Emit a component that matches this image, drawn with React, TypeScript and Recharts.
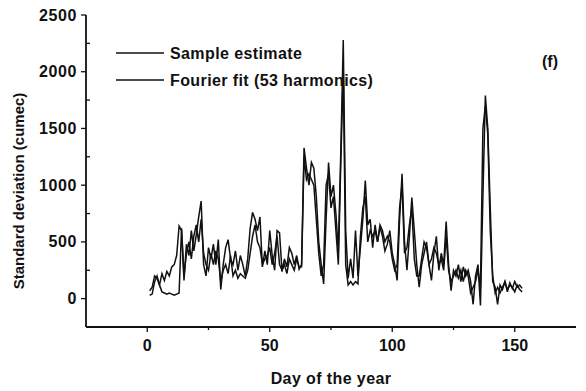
import React from "react";
import { LineChart, Line, XAxis, YAxis, Legend } from "recharts";

// Daily standard deviation values (cumec)
const sampleEstimate = [
    70, 100, 200, 180, 120, 220, 160, 240, 200, 280,
    300, 380, 640, 600, 160, 480, 380, 600, 420, 560,
    720, 860, 300, 200, 450, 350, 480, 300, 520, 80,
    300, 450, 520, 350, 300, 420, 250, 380, 300, 200,
    350, 620, 760, 700, 600, 720, 280, 420, 300, 600,
    380, 250, 600, 580, 240, 350, 280, 450, 400, 300,
    380, 260, 300, 1330, 1150, 1000, 1200, 1150, 900, 500,
    300, 130, 700, 1200, 900, 1000, 750, 420, 1300, 2280,
    600, 180, 350, 180, 600, 200, 450, 700, 1040, 650,
    700, 450, 650, 500, 630, 550, 420, 480, 600, 400,
    300, 160, 700, 1100, 500, 250, 550, 890, 600, 300,
    100, 300, 400, 500, 300, 160, 400, 550, 250, 400,
    300, 680, 300, 70, 250, 200, 300, 150, 280, 200,
    250, 150, -50, 200, 300, -60, 900, 1790, 1500, 800,
    150, 100, -50, 120, 80, 150, 60, 140, 90, 150,
    100, 120, 90,
];

const fourierFit = [
    30, 40, 150, 200, 120, 60, 50, 40, 50, 40,
    30, 40, 50, 620, 200, 400, 500, 350, 550, 650,
    500, 700, 400, 300, 250, 400, 300, 420, 350, 150,
    250, 300, 220, 380, 200, 250, 180, 220, 200, 180,
    250, 400, 550, 650, 500, 450, 300, 350, 380, 450,
    300, 400, 550, 300, 250, 300, 220, 350, 300, 250,
    350, 280, 280, 1250, 1050, 1100, 1050, 1000, 700, 400,
    200, 300, 1000, 1100, 800, 900, 600, 300, 1200, 2000,
    300, 120, 150, 120, 150, 130, 550, 800, 900, 500,
    600, 550, 600, 500, 650, 600, 500, 550, 500, 350,
    250, 300, 800, 1000, 400, 450, 650, 800, 350, 200,
    200, 350, 500, 450, 300, 350, 450, 400, 300, 350,
    250, 550, 250, 150, 200, 250, 180, 250, 150, 250,
    200, 50, 100, 150, 250, 100, 1500, 1700, 1450, 600,
    200, 50, 100, 50, 100, 150, 80, 120, 100, 60,
    120, 80, 60,
];

const days = sampleEstimate.map((_, i) => i + 1);

const xTicks = [-25, 0, 25, 50, 75, 100, 125, 150, 175];
const xLabelled = [0, 50, 100, 150];
const yTicks = [-250, 0, 250, 500, 750, 1000, 1250, 1500, 1750, 2000, 2250, 2500];
const yLabelled = [0, 500, 1000, 1500, 2000, 2500];

const data = days.map((d, i) => ({ day: d, sample: sampleEstimate[i], fourier: fourierFit[i] }));

const INK = "#111";
const FONT = "'Liberation Sans', Arial, sans-serif";
const AXIS = { stroke: INK, strokeWidth: 1.8 };

const XTick = (props: any) => {
    const { x, y, payload } = props;
    const major = xLabelled.includes(payload.value);
    if (payload.value === -25 || payload.value === 175) return null;
    return (
        <g>
            <line x1={x} x2={x} y1={y} y2={y + (major ? 5 : 3)} stroke={INK} strokeWidth={1.3} />
            {major && (
                <text x={x} y={y + 18} textAnchor="middle" dominantBaseline="central" fill={INK} fontSize={16} fontWeight="bold" fontFamily={FONT}>
                    {payload.value}
                </text>
            )}
        </g>
    );
};

const YTick = (props: any) => {
    const { x, y, payload } = props;
    const major = yLabelled.includes(payload.value);
    if (payload.value === -250) return null;
    return (
        <g>
            {major ? (
                <line x1={x - 5} x2={x} y1={y} y2={y} stroke={INK} strokeWidth={1.3} />
            ) : (
                <line x1={x} x2={x + 4} y1={y} y2={y} stroke={INK} strokeWidth={1.3} />
            )}
            {major && (
                <text x={x - 9} y={y} textAnchor="end" dominantBaseline="central" fill={INK} fontSize={16} fontWeight="bold" fontFamily={FONT} letterSpacing={0.6}>
                    {payload.value}
                </text>
            )}
        </g>
    );
};

const YLabel = (props: any) => {
    const { viewBox } = props;
    const cx = viewBox.x - 8;
    const cy = viewBox.y + viewBox.height / 2 + 20;
    return (
        <text x={cx} y={cy} transform={`rotate(-90, ${cx}, ${cy})`} textAnchor="middle" dominantBaseline="central" fill={INK} fontSize={15} fontWeight="bold" fontFamily={FONT}>
            Standard deviation (cumec)
        </text>
    );
};

const XLabel = (props: any) => {
    const { viewBox } = props;
    const cx = viewBox.x + viewBox.width / 2;
    return (
        <text x={cx} y={378} textAnchor="middle" dominantBaseline="central" fill={INK} fontSize={16} fontWeight="bold" fontFamily={FONT} letterSpacing={0.4}>
            Day of the year
        </text>
    );
};

const LegendBox = () => (
    <svg width={300} height={50} style={{ overflow: "visible" }}>
        <line x1={0} x2={48} y1={8} y2={8} stroke={INK} strokeWidth={1.3} />
        <text x={54} y={8} dominantBaseline="central" fill={INK} fontSize={16} fontWeight="bold" fontFamily={FONT} letterSpacing={0.4}>Sample estimate</text>
        <line x1={0} x2={48} y1={35} y2={35} stroke={INK} strokeWidth={1.3} />
        <text x={54} y={35} dominantBaseline="central" fill={INK} fontSize={16} fontWeight="bold" fontFamily={FONT} letterSpacing={0.4}>Fourier fit (53 harmonics)</text>
    </svg>
);

export default function App() {
    return (
        <div style={{ position: "absolute", left: 0, top: 0, width: 586, height: 391, background: "#fff" }}>
            <LineChart width={586} height={391} data={data} margin={{ top: 15, right: 10, bottom: 34, left: 26 }}>
                <XAxis
                    dataKey="day"
                    type="number"
                    domain={[-25, 175]}
                    ticks={xTicks}
                    interval={0}
                    tick={<XTick />}
                    tickLine={false}
                    tickSize={0}
                    tickMargin={0}
                    axisLine={AXIS}
                    height={30}
                    label={<XLabel />}
                />
                <XAxis xAxisId="top" orientation="top" type="number" domain={[-25, 175]} tick={false} tickLine={false} height={0} axisLine={AXIS} />
                <YAxis
                    type="number"
                    domain={[-250, 2500]}
                    ticks={yTicks}
                    interval={0}
                    tick={<YTick />}
                    tickLine={false}
                    tickSize={0}
                    tickMargin={0}
                    width={60}
                    axisLine={AXIS}
                    label={<YLabel />}
                />
                <YAxis yAxisId="right" orientation="right" type="number" domain={[-250, 2500]} tick={false} tickLine={false} width={0} axisLine={AXIS} />
                <Legend
                    layout="horizontal"
                    verticalAlign="middle"
                    align="center"
                    content={() => <LegendBox />}
                    wrapperStyle={{ position: "absolute", left: 116, top: 45, width: 300, height: 50 }}
                />
                <Line dataKey="sample" name="Sample estimate" stroke={INK} strokeWidth={1.5} dot={false} isAnimationActive={false} />
                <Line dataKey="fourier" name="Fourier fit (53 harmonics)" stroke={INK} strokeWidth={1.5} dot={false} isAnimationActive={false} />
            </LineChart>
            <div style={{ position: "absolute", left: 542, top: 53, fontFamily: FONT, fontSize: 16, fontWeight: "bold", color: INK }}>(f)</div>
        </div>
    );
}
